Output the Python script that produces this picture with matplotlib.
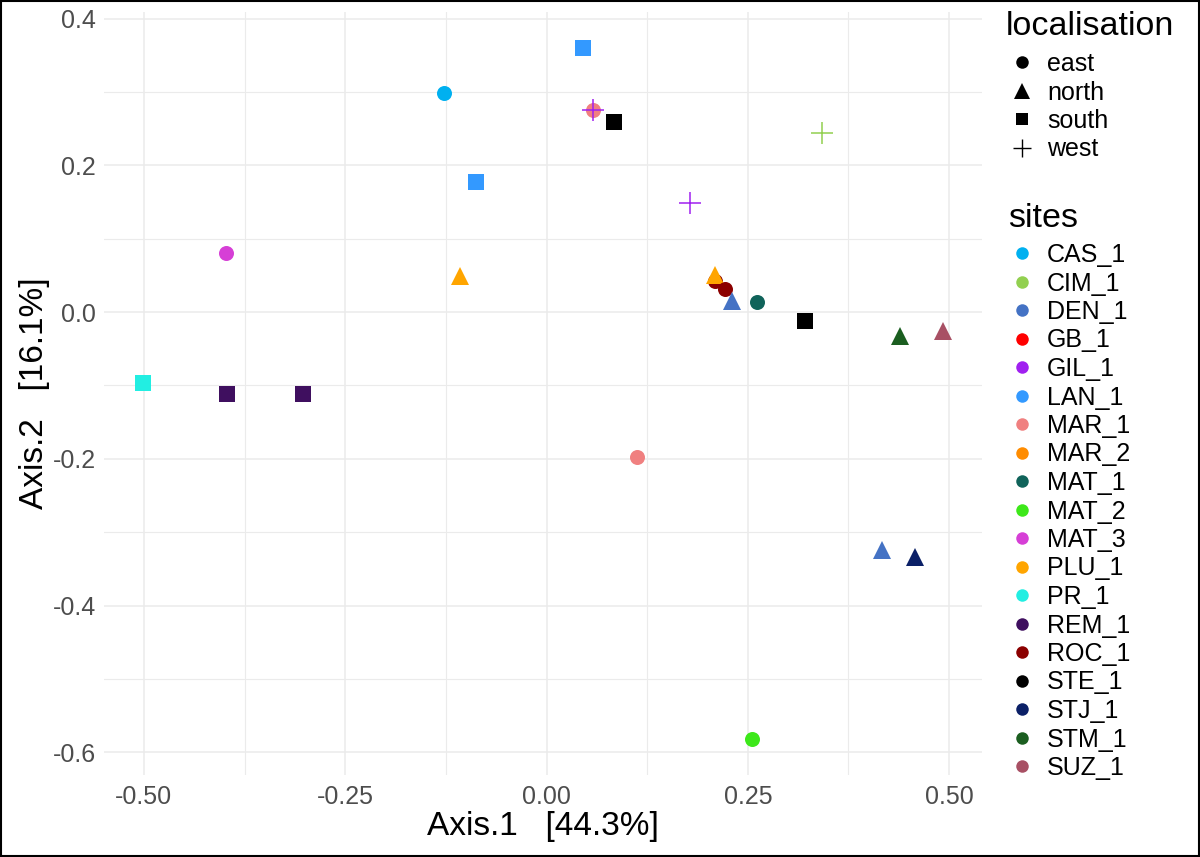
import matplotlib.pyplot as plt
from matplotlib.lines import Line2D
from matplotlib.patches import Rectangle

plt.rcParams['font.family'] = ['Liberation Sans', 'DejaVu Sans']

# ordination scores (drawing order kept)
sites = ['CAS_1', 'LAN_1', 'LAN_1', 'MAR_1', 'GIL_1', 'STE_1', 'GIL_1', 'CIM_1',
         'MAT_3', 'PLU_1', 'PR_1', 'REM_1', 'REM_1', 'ROC_1', 'PLU_1', 'ROC_1',
         'DEN_1', 'MAT_1', 'STE_1', 'STM_1', 'SUZ_1', 'MAR_1', 'DEN_1', 'STJ_1',
         'MAT_2']
localisation = ['east', 'south', 'south', 'east', 'west', 'south', 'west', 'west',
                'east', 'north', 'south', 'south', 'south', 'east', 'north', 'east',
                'north', 'east', 'south', 'north', 'north', 'east', 'north', 'north',
                'east']
axis1 = [-0.127, 0.045, -0.087, 0.058, 0.058, 0.084, 0.178, 0.342,
         -0.398, -0.108, -0.501, -0.397, -0.303, 0.209, 0.209, 0.222,
         0.230, 0.261, 0.321, 0.439, 0.492, 0.113, 0.417, 0.457,
         0.255]
axis2 = [0.299, 0.360, 0.177, 0.275, 0.275, 0.259, 0.148, 0.244,
         0.080, 0.049, -0.097, -0.111, -0.112, 0.043, 0.050, 0.032,
         0.015, 0.014, -0.012, -0.032, -0.026, -0.197, -0.324, -0.334,
         -0.582]

site_levels = ['CAS_1', 'CIM_1', 'DEN_1', 'GB_1', 'GIL_1', 'LAN_1', 'MAR_1', 'MAR_2',
               'MAT_1', 'MAT_2', 'MAT_3', 'PLU_1', 'PR_1', 'REM_1', 'ROC_1', 'STE_1',
               'STJ_1', 'STM_1', 'SUZ_1']
site_colours = ['#00B0F0', '#92D050', '#4472C4', '#FF0000', '#A020F0', '#3399FF',
                '#F08080', '#FF8C00', '#10635A', '#3DE81A', '#D63FD6', '#FFA500',
                '#22EEE2', '#3F0F5F', '#8B0000', '#000000', '#0B2067', '#1B5E20',
                '#A85064']
loc_levels = ['east', 'north', 'south', 'west']

colour_of = dict(zip(site_levels, site_colours))
marker_of = {'east': 'o', 'north': '^', 'south': 's', 'west': '+'}
size_of = {'east': 10.8, 'north': 13, 'south': 11.3, 'west': 15.8}

fig = plt.figure(figsize=(12, 8.57), dpi=100)
ax = fig.add_axes([104 / 1200, 1 - 775 / 857, (982 - 104) / 1200, (775 - 12) / 857])

for s, loc, x, y in zip(sites, localisation, axis1, axis2):
    m = marker_of[loc]
    if m == '+':
        ax.plot(x, y, marker=m, ms=size_of[loc], mew=1.1, color=colour_of[s], ls='none')
    else:
        ax.plot(x, y, marker=m, ms=size_of[loc], mew=0, color=colour_of[s], ls='none')

ax.set_xlim(-0.5495, 0.5408)
ax.set_ylim(-0.631, 0.409)
ax.set_xticks([-0.5, -0.25, 0, 0.25, 0.5])
ax.set_xticklabels(['-0.50', '-0.25', '0.00', '0.25', '0.50'])
ax.set_xticks([-0.375, -0.125, 0.125, 0.375], minor=True)
ax.set_yticks([-0.6, -0.4, -0.2, 0, 0.2, 0.4])
ax.set_yticklabels(['-0.6', '-0.4', '-0.2', '0.0', '0.2', '0.4'])
ax.set_yticks([-0.5, -0.3, -0.1, 0.1, 0.3], minor=True)
ax.grid(which='major', color='#EBEBEB', lw=1.1)
ax.grid(which='minor', color='#EBEBEB', lw=0.8)
ax.set_axisbelow(True)
for sp in ax.spines.values():
    sp.set_visible(False)
ax.tick_params(which='both', length=0)
ax.tick_params(axis='x', labelsize=18, labelcolor='#4D4D4D', pad=7)
ax.tick_params(axis='y', labelsize=18, labelcolor='#4D4D4D', pad=6)
ax.set_xlabel('Axis.1   [44.3%]', fontsize=24, labelpad=2)
ax.set_ylabel('Axis.2   [16.1%]', fontsize=24, labelpad=2)

# legends (titles drawn as plain text so their spacing can be set)
fig.text(1006 / 1200, 1 - 35 / 857, 'localisation', fontsize=24.5, va='baseline')
loc_handles = [Line2D([], [], marker=marker_of[l], color='black', ls='none',
                      ms={'east': 9, 'north': 12, 'south': 9, 'west': 13}[l],
                      mew=1.0 if l == 'west' else 0) for l in loc_levels]
fig.legend(loc_handles, loc_levels, loc='upper left',
           bbox_to_anchor=(1007 / 1200, 1 - 52 / 857), frameon=False,
           fontsize=18, borderpad=0, borderaxespad=0,
           labelspacing=0.18, handlelength=1.2, handletextpad=0.4)

fig.text(1008 / 1200, 1 - 227 / 857, 'sites', fontsize=24.5, va='baseline')
site_handles = [Line2D([], [], marker='o', color=c, ls='none', ms=9, mew=0)
                for c in site_colours]
fig.legend(site_handles, site_levels, loc='upper left',
           bbox_to_anchor=(1007 / 1200, 1 - 243 / 857), frameon=False,
           fontsize=18, borderpad=0, borderaxespad=0,
           labelspacing=0.18, handlelength=1.2, handletextpad=0.4)

fig.add_artist(Rectangle((0.001, 0.001), 0.998, 0.998, transform=fig.transFigure,
                         fill=False, edgecolor='black', lw=1.5))

fig.savefig('out.png', dpi=100)
